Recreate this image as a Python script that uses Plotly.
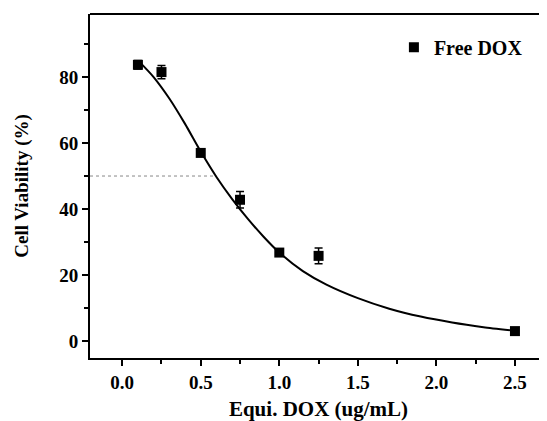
import plotly.graph_objects as go

dose = [0.1, 0.25, 0.5, 0.75, 1.0, 1.25, 2.5]
viability = [83.7, 81.5, 57.0, 42.8, 26.8, 25.8, 3.0]
err = [1.3, 2.0, 1.0, 2.5, 1.0, 2.4, 1.0]

fit_x = [0.11, 0.2, 0.3, 0.4, 0.5, 0.6, 0.7, 0.8, 0.9, 1.0, 1.15, 1.3, 1.5, 1.7, 1.9, 2.1, 2.3, 2.5]
fit_y = [84.6, 80.0, 73.5, 65.8, 57.4, 49.7, 43.0, 37.0, 31.6, 26.8, 21.2, 17.1, 13.0, 9.8, 7.4, 5.6, 4.2, 3.1]

ic50_x = [-0.205, 0.6]
ic50_y = [50, 50]

xticks = [0.0, 0.5, 1.0, 1.5, 2.0, 2.5]
xticklabels = ["0.0", "0.5", "1.0", "1.5", "2.0", "2.5"]
yticks = [0, 20, 40, 60, 80]
yticklabels = ["0", "20", "40", "60", "80"]

font = "Liberation Serif"

fig = go.Figure()
fig.add_trace(go.Scatter(x=ic50_x, y=ic50_y, mode="lines",
                         line=dict(color="#888888", width=1, dash="dot"),
                         showlegend=False, hoverinfo="skip"))
fig.add_trace(go.Scatter(x=fit_x, y=fit_y, mode="lines", line_shape="spline",
                         line=dict(color="black", width=2, smoothing=0.6), showlegend=False))
fig.add_trace(go.Scatter(x=dose, y=viability, mode="markers", name="<b>Free DOX</b>",
                         marker=dict(symbol="square", size=10, color="black"),
                         error_y=dict(type="data", array=err, color="black",
                                      thickness=1.5, width=4)))

fig.add_shape(type="line", xref="paper", yref="paper", x0=0, x1=1, y0=1, y1=1,
              line=dict(color="black", width=2), layer="above")

fig.update_layout(
    width=539, height=413,
    margin=dict(l=82, r=0, t=6, b=63),
    paper_bgcolor="white", plot_bgcolor="white",
    font=dict(family=font, color="black", size=15),
    legend=dict(x=0.665, y=0.96, xanchor="left", yanchor="top",
                bgcolor="rgba(0,0,0,0)", font=dict(family=font, size=20, color="black"),
                itemwidth=30),
    showlegend=True,
)
fig.update_xaxes(
    range=[-0.205, 2.704], showgrid=False, zeroline=False, automargin=False,
    showline=True, linecolor="black", linewidth=2, mirror=False,
    ticks="outside", ticklen=6, tickwidth=2, tickcolor="black",
    tickvals=xticks, ticktext=[f"<b>{t}</b>" for t in xticklabels],
    tickfont=dict(family=font, size=19, color="black"),
    minor=dict(dtick=0.25, tick0=0, ticks="outside", ticklen=4, tickwidth=2, tickcolor="black"),
    title=dict(text="<b>Equi. DOX (ug/mL)</b>", font=dict(family=font, size=21, color="black"), standoff=26),
)
fig.update_yaxes(
    range=[-5.15, 99.1], showgrid=False, zeroline=False, automargin=False,
    showline=True, linecolor="black", linewidth=2, mirror=False,
    ticks="outside", ticklen=6, tickwidth=2, tickcolor="black",
    tickvals=yticks, ticktext=[f"<b>{t}</b>" for t in yticklabels],
    tickfont=dict(family=font, size=19, color="black"),
    minor=dict(dtick=10, tick0=0, ticks="outside", ticklen=4, tickwidth=2, tickcolor="black"),
    title=dict(text="<b>Cell Viability (%)</b>", font=dict(family=font, size=19, color="black"), standoff=26),
)

fig.write_html("out.html")
